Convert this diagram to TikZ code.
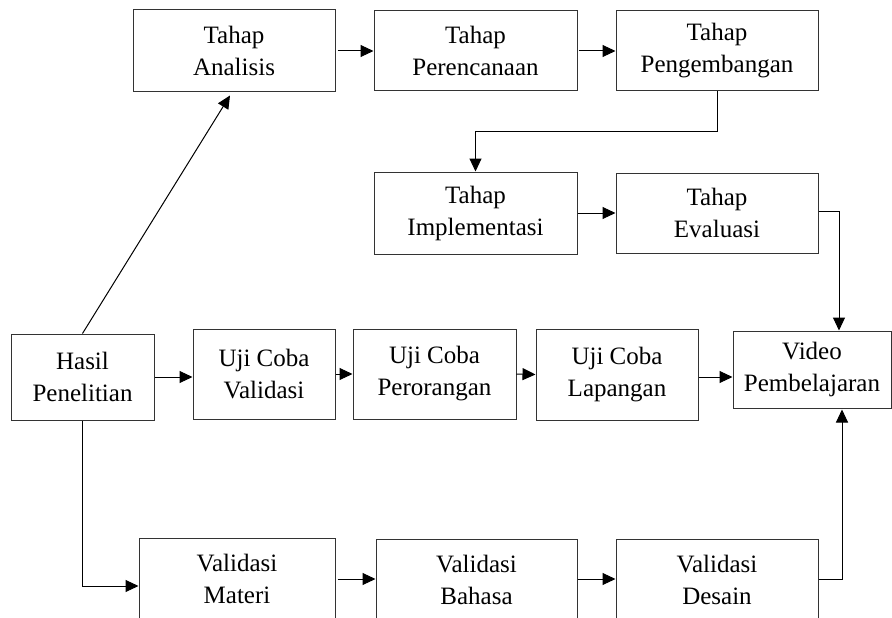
\documentclass[tikz,border=0pt]{standalone}
\usepackage{fontspec}
\setmainfont{Liberation Serif}
\usetikzlibrary{arrows.meta}
\begin{document}
\begin{tikzpicture}[x=1pt,y=-1pt,
  box/.style={draw=black!80,line width=1pt,align=center,inner sep=0pt,
    font=\fontsize{25}{32}\selectfont,text=black},
  arr/.style={draw=black,line width=1pt,-{Triangle[length=13pt,width=12pt]}},
  ln/.style={draw=black,line width=1pt}]
\clip (0,0) rectangle (892,618);
\fill[white] (0,0) rectangle (892,618);
\node[box,minimum width=202pt,minimum height=82pt] (ana) at (234,51) {Tahap\\Analisis};
\node[box,minimum width=203pt,minimum height=80pt] (per) at (475.5,51) {Tahap\\Perencanaan};
\node[box,minimum width=202pt,minimum height=80pt] (peng) at (717,51) {Tahap\\Pengembangan};
\node[box,minimum width=203pt,minimum height=82pt] (imp) at (475.5,213) {Tahap\\Implementasi};
\node[box,minimum width=202pt,minimum height=80pt] (eva) at (717,213) {Tahap\\Evaluasi};
\node[box,minimum width=143pt,minimum height=86pt] (hasil) at (82.5,377) {Hasil\\Penelitian};
\node[box,minimum width=142pt,minimum height=90pt] (ujv) at (264,374) {Uji Coba\\Validasi};
\node[box,minimum width=163pt,minimum height=90pt] (ujp) at (434.5,374) {Uji Coba\\Perorangan};
\node[box,minimum width=162pt,minimum height=91pt] (ujl) at (617,374.5) {Uji Coba\\Lapangan};
\node[box,minimum width=158pt,minimum height=77pt] (vid) at (812,369.5) {Video\\Pembelajaran};
\node[box,minimum width=196pt,minimum height=82pt] (vm) at (237,579) {Validasi\\Materi};
\node[box,minimum width=201pt,minimum height=82pt] (vb) at (476.5,580) {Validasi\\Bahasa};
\node[box,minimum width=202pt,minimum height=82pt] (vd) at (717,580) {Validasi\\Desain};
% connectors
\draw[arr] ([xshift=2pt]ana.east) -- (per.west);
\draw[arr] ([xshift=1pt]per.east) -- (peng.west);
\draw[arr] (peng.south) -- ++(0,40) -| (imp.north);
\draw[arr] (imp.east) -- (eva.west);
\draw[arr] ([yshift=2pt]eva.east) -| ([xshift=27pt]vid.north);
\draw[arr] (hasil.north) -- ([xshift=-4pt,yshift=-3pt]ana.south);
\draw[arr] (hasil.east) -- (hasil.east -| ujv.west);
\draw[arr] (ujv.east) -- (ujp.west);
\draw[arr] (ujp.east) -- (ujl.west);
\draw[arr] ([yshift=-2.5pt]ujl.east) -- ([yshift=-2.5pt]ujl.east -| vid.west);
\draw[arr] (hasil.south) |- ([yshift=-7pt]vm.west);
\draw[arr] ([xshift=2pt]vm.east) -- (vm.east -| vb.west);
\draw[arr] ([yshift=1pt]vb.east) -- ([yshift=1pt]vb.east -| vd.west);
\draw[arr] ([yshift=1pt]vd.east) -| ([xshift=30pt,yshift=-1pt]vid.south);
\end{tikzpicture}
\end{document}
